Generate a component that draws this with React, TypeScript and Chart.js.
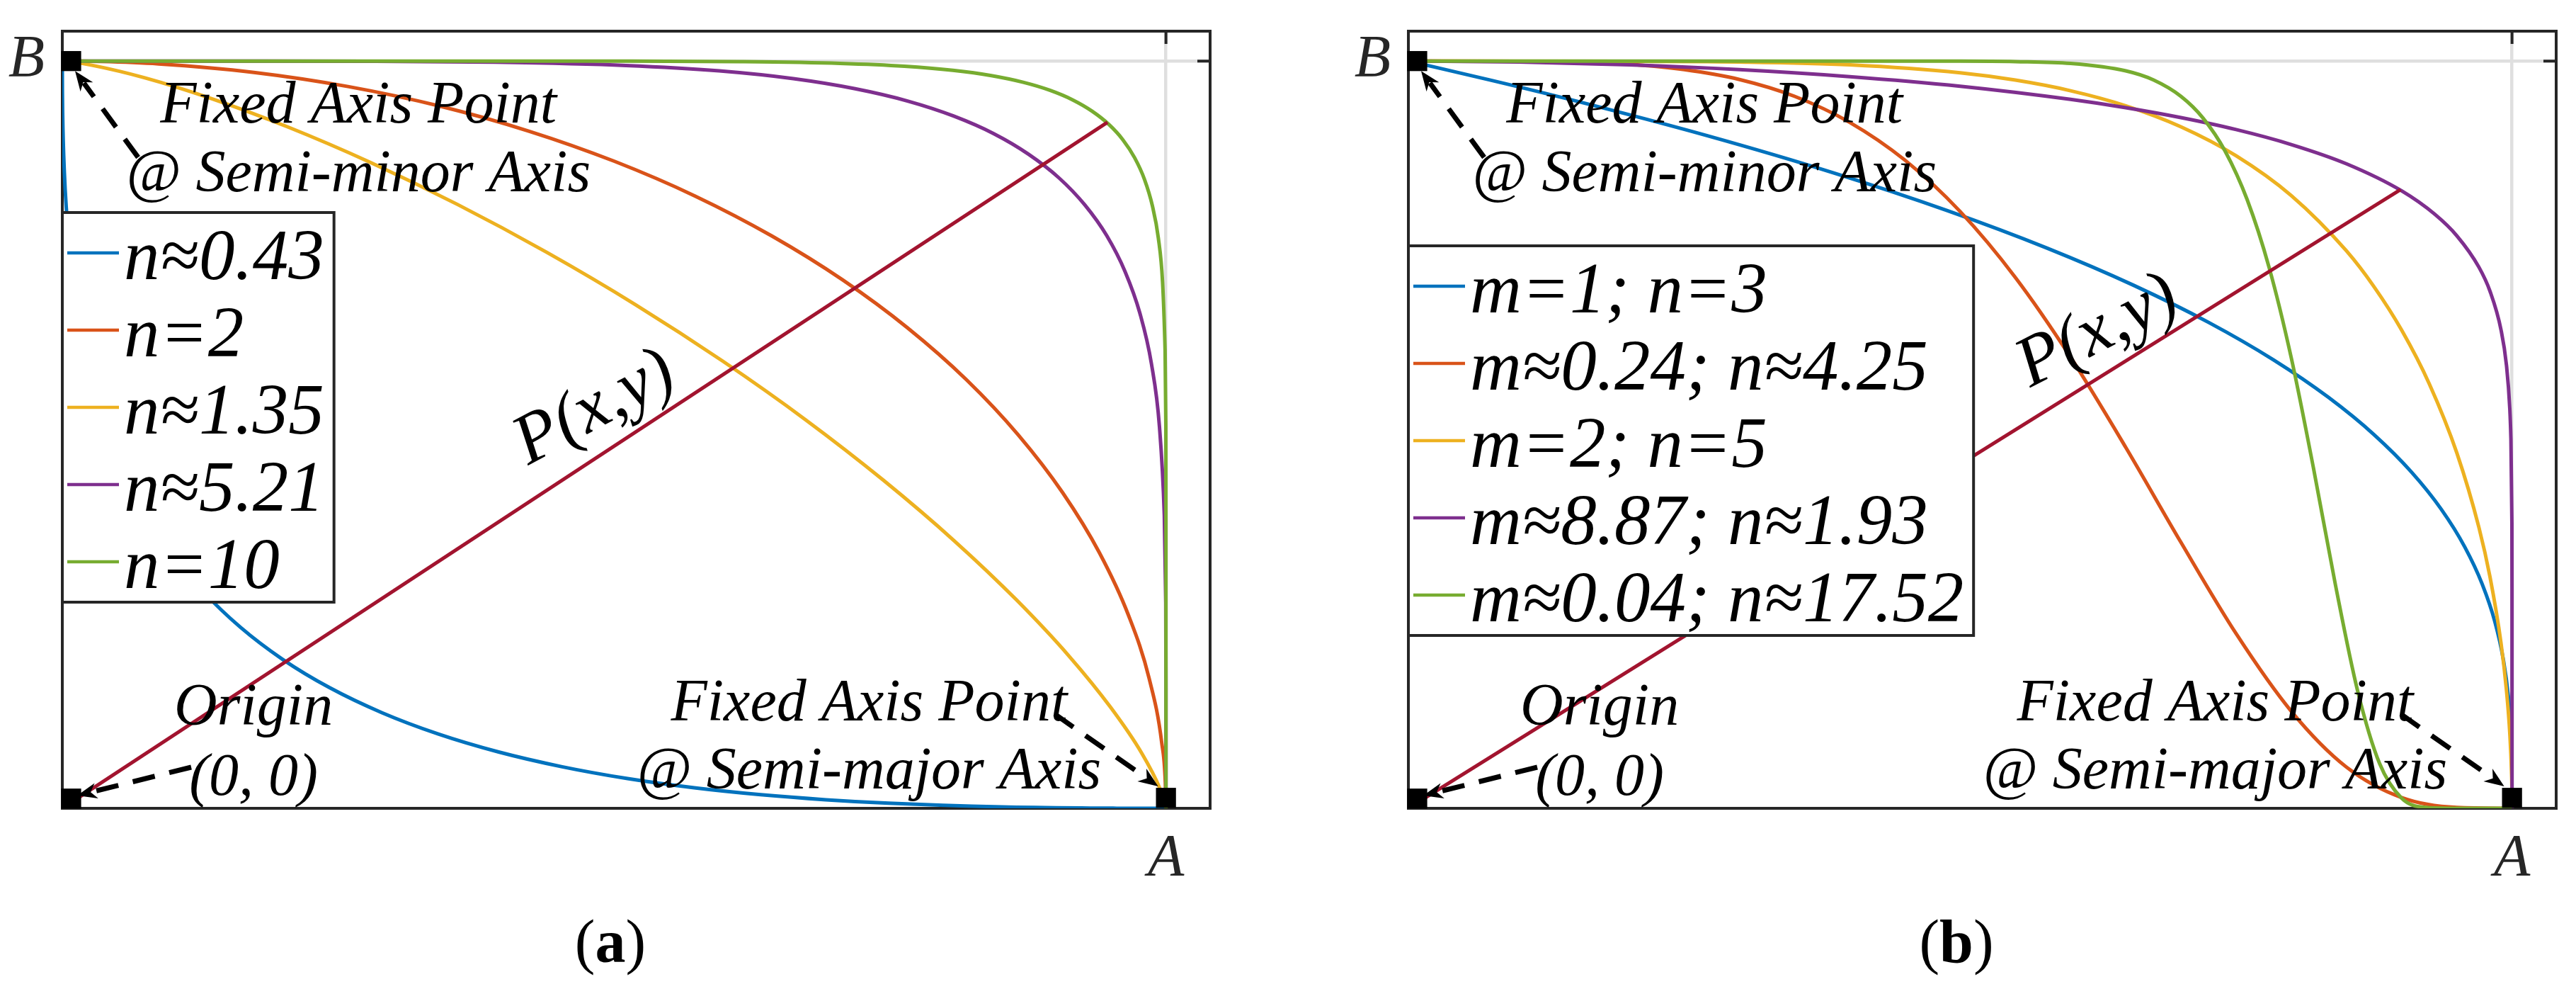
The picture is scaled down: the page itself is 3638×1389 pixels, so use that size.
import React, { useEffect, useRef } from 'react';
import { Chart, registerables } from 'chart.js';

Chart.register(...registerables);

type Pt = [number, number];

// ---------- DATA (normalised: A = 1, B = 1) ----------
// Panel (a): curves
const panelA_n043: Pt[] = [
  [0, 1], [0.000001, 0.9936], [0.000012, 0.9824], [0.000104, 0.9555], [0.000291, 0.9313],
  [0.001862, 0.8511], [0.006804, 0.7488], [0.011474, 0.6919], [0.018203, 0.6328], [0.02749, 0.5725],
  [0.039789, 0.5122], [0.05562, 0.4529], [0.07537, 0.3954], [0.09942, 0.3407], [0.12804, 0.2895],
  [0.16136, 0.2423], [0.19946, 0.1995], [0.2423, 0.16136], [0.2895, 0.12804], [0.3407, 0.09942],
  [0.3954, 0.07537], [0.4529, 0.05562], [0.5122, 0.039789], [0.5725, 0.02749], [0.6328, 0.018203],
  [0.6919, 0.011474], [0.7488, 0.006804], [0.8511, 0.001862], [0.9313, 0.000291], [0.9555, 0.000104],
  [0.9824, 0.000012], [0.9936, 0.000001], [1, 0],
];
const panelA_n2: Pt[] = [
  [0, 1], [0.0349, 0.9994], [0.0872, 0.9962], [0.1736, 0.9848], [0.2588, 0.9659], [0.342, 0.9397],
  [0.4226, 0.9063], [0.5, 0.866], [0.5736, 0.8192], [0.6428, 0.766], [0.7071, 0.7071], [0.766, 0.6428],
  [0.8192, 0.5736], [0.866, 0.5], [0.9063, 0.4226], [0.9397, 0.342], [0.9659, 0.2588], [0.9848, 0.1736],
  [0.9962, 0.0872], [0.9994, 0.0349], [1, 0],
];
const panelA_n135: Pt[] = [
  [0, 1], [0.0069, 0.9991], [0.0269, 0.9944], [0.0748, 0.9776], [0.135, 0.9499], [0.204, 0.912],
  [0.2791, 0.8644], [0.3581, 0.8081], [0.4389, 0.7441], [0.5196, 0.6738], [0.5984, 0.5984],
  [0.6738, 0.5196], [0.7441, 0.4389], [0.8081, 0.3581], [0.8644, 0.2791], [0.912, 0.204],
  [0.9499, 0.135], [0.9776, 0.0748], [0.9944, 0.0269], [0.9991, 0.0069], [1, 0],
];
const panelA_n521: Pt[] = [
  [0, 1], [0.162, 1.0], [0.2758, 0.9998], [0.3919, 0.9985], [0.5107, 0.9941], [0.5952, 0.9868],
  [0.6624, 0.9764], [0.7184, 0.9629], [0.7664, 0.9463], [0.8078, 0.9263], [0.844, 0.9028],
  [0.8754, 0.8754], [0.9028, 0.844], [0.9263, 0.8078], [0.9463, 0.7664], [0.9629, 0.7184],
  [0.9764, 0.6624], [0.9868, 0.5952], [0.9941, 0.5107], [0.9985, 0.3919], [0.9998, 0.2758],
  [0.99999, 0.162], [1, 0],
];
const panelA_n10: Pt[] = [
  [0, 1], [0.2808, 1.0], [0.3874, 1.0], [0.5112, 0.9999], [0.6139, 0.9992], [0.7046, 0.9969],
  [0.7631, 0.9931], [0.8069, 0.9876], [0.8418, 0.9805], [0.8706, 0.9716], [0.8948, 0.9609],
  [0.9154, 0.9481], [0.933, 0.933], [0.9481, 0.9154], [0.9609, 0.8948], [0.9716, 0.8706],
  [0.9805, 0.8418], [0.9876, 0.8069], [0.9931, 0.7631], [0.9969, 0.7046], [0.9992, 0.6139],
  [0.9999, 0.5112], [0.99999, 0.3874], [0.999999, 0.2808], [1, 0],
];
const panelA_pLine: Pt[] = [[0, 0], [0.947, 0.918]];

// Panel (b): curves
const panelB_m1n3: Pt[] = [
  [0, 1], [0.0731, 0.975], [0.1426, 0.95], [0.271, 0.9], [0.3859, 0.85], [0.488, 0.8], [0.5781, 0.75],
  [0.657, 0.7], [0.7254, 0.65], [0.784, 0.6], [0.8336, 0.55], [0.875, 0.5], [0.9089, 0.45], [0.936, 0.4],
  [0.9571, 0.35], [0.973, 0.3], [0.9844, 0.25], [0.992, 0.2], [0.9966, 0.15], [0.999, 0.1],
  [0.99988, 0.05], [1, 0],
];
const panelB_m024n425: Pt[] = [
  [0, 1], [0.1, 0.9998], [0.15, 0.9987], [0.2, 0.9956], [0.25, 0.9885], [0.3, 0.9753], [0.35, 0.9528],
  [0.4, 0.9179], [0.45, 0.8673], [0.5, 0.7986], [0.55, 0.7104], [0.6, 0.6037], [0.65, 0.483],
  [0.7, 0.3559], [0.75, 0.2337], [0.8, 0.1298], [0.85, 0.0551], [0.9, 0.0143], [0.95, 0.0011], [1, 0],
];
const panelB_m2n5: Pt[] = [
  [0, 1], [0.2, 0.9998], [0.3, 0.9988], [0.4, 0.9949], [0.5, 0.9843], [0.55, 0.9745], [0.6, 0.9603],
  [0.65, 0.9402], [0.7, 0.9121], [0.75, 0.8733], [0.8, 0.82], [0.85, 0.7459], [0.875, 0.6979],
  [0.9, 0.6399], [0.925, 0.5682], [0.95, 0.4756], [0.97, 0.3759], [0.98, 0.31], [0.99, 0.2214],
  [0.995, 0.1573], [0.998, 0.0998], [0.9995, 0.05], [0.9999, 0.0224], [1, 0],
];
const panelB_m887n193: Pt[] = [
  [0, 1], [0.1, 0.9987], [0.2, 0.9949], [0.3, 0.9885], [0.4, 0.9791], [0.5, 0.9663], [0.6, 0.9487],
  [0.65, 0.9376], [0.7, 0.9243], [0.75, 0.9083], [0.8, 0.8883], [0.85, 0.8625], [0.9, 0.8263],
  [0.93, 0.795], [0.95, 0.7662], [0.97, 0.7242], [0.98, 0.6922], [0.99, 0.6405], [0.995, 0.5925],
  [0.998, 0.5344], [0.999, 0.4942], [0.9999, 0.3813], [0.99999, 0.2941], [0.9999999, 0.175], [1, 0],
];
const panelB_m004n1752: Pt[] = [
  [0, 1], [0.5, 0.9999], [0.55, 0.9993], [0.6, 0.9968], [0.65, 0.9869], [0.675, 0.9748], [0.7, 0.9528],
  [0.72, 0.9238], [0.74, 0.8796], [0.76, 0.8146], [0.78, 0.7233], [0.8, 0.6027], [0.82, 0.456],
  [0.84, 0.299], [0.86, 0.1578], [0.88, 0.0599], [0.9, 0.0136], [0.92, 0.0014], [0.95, 0], [1, 0],
];
const panelB_pLine: Pt[] = [[0, 0], [0.899, 0.828]];

// Fixed points (B, origin, A) drawn as black squares
const fixedPoints: Pt[] = [[0.008, 1.0], [0.008, 0.013], [1.0, 0.014]];

// Legend labels
const legendA = ['n≈0.43', 'n=2', 'n≈1.35', 'n≈5.21', 'n=10'];
const legendB = ['m=1; n=3', 'm≈0.24; n≈4.25', 'm=2; n=5', 'm≈8.87; n≈1.93', 'm≈0.04; n≈17.52'];

// Tick values and labels
const xTickValues = [1];
const xTickLabels = ['A'];
const yTickValues = [1];
const yTickLabels = ['B'];

// Annotation texts
const annotationTexts = ['Fixed Axis Point', '@ Semi-minor Axis', 'Origin', '(0, 0)', 'Fixed Axis Point', '@ Semi-major Axis'];

// ---------- STYLE / LAYOUT ----------
const SERIES_COLORS = ['#0072BD', '#D95319', '#EDB120', '#7E2F8E', '#77AC30'];
const P_COLOR = '#A2142F';
const AXIS_COLOR = '#262626';
const GRID_COLOR = '#dfdfdf';
const FONT = '"Liberation Serif", "Times New Roman", Times, serif';
const LEGEND_FONT_SIZE = 101;

const CANVAS_W = 1819;
const CANVAS_H = 1389;

// positions of annotation texts (data coords, centre x / baseline y)
const annotationPos: Pt[] = [
  [0.2683, 0.9175], [0.2683, 0.8256], [0.1733, 0.1118], [0.1733, 0.018], [0.731, 0.1175], [0.731, 0.0265],
];
// arrows: [tailX, tailY, tipX, tipY] in data coords
const arrowPos: number[][] = [
  [0.0687, 0.8711, 0.01155, 0.98673],
  [0.1168, 0.055, 0.01348, 0.01706],
  [0.8992, 0.1261, 0.99294, 0.02938],
];

interface PanelSpec {
  series: Pt[][];
  labels: string[];
  pLine: Pt[];
  pLabel: Pt;
  pRot: number;
  legendTop: number;
  yAxisWidth: number;
  rightPad: number;
  caption: string;
}

const specA: PanelSpec = {
  series: [panelA_n043, panelA_n2, panelA_n135, panelA_n521, panelA_n10],
  labels: legendA,
  pLine: panelA_pLine,
  pLabel: [0.4827, 0.5346],
  pRot: 28,
  legendTop: 256,
  yAxisWidth: 88,
  rightPad: 110,
  caption: 'a',
};

const specB: PanelSpec = {
  series: [panelB_m1n3, panelB_m024n425, panelB_m2n5, panelB_m887n193, panelB_m004n1752],
  labels: legendB,
  pLine: panelB_pLine,
  pLabel: [0.6248, 0.637],
  pRot: 27,
  legendTop: 303,
  yAxisWidth: 170,
  rightPad: 28,
  caption: 'b',
};

const toXY = (arr: Pt[]) => arr.map(([x, y]) => ({ x, y }));

function drawArrow(ctx: CanvasRenderingContext2D, x1: number, y1: number, x2: number, y2: number) {
  const dx = x2 - x1;
  const dy = y2 - y1;
  const L = Math.hypot(dx, dy);
  const ux = dx / L;
  const uy = dy / L;
  const headL = 28;
  const headHW = 11;
  const sx = x2 - ux * headL * 0.75;
  const sy = y2 - uy * headL * 0.75;
  ctx.save();
  ctx.strokeStyle = '#000';
  ctx.lineWidth = 7;
  ctx.lineCap = 'butt';
  ctx.setLineDash([32, 21]);
  ctx.beginPath();
  ctx.moveTo(x1, y1);
  ctx.lineTo(sx, sy);
  ctx.stroke();
  ctx.setLineDash([]);
  ctx.fillStyle = '#000';
  ctx.beginPath();
  ctx.moveTo(x2, y2);
  ctx.lineTo(x2 - ux * headL - uy * headHW, y2 - uy * headL + ux * headHW);
  ctx.lineTo(x2 - ux * headL * 0.7, y2 - uy * headL * 0.7);
  ctx.lineTo(x2 - ux * headL + uy * headHW, y2 - uy * headL - ux * headHW);
  ctx.closePath();
  ctx.fill();
  ctx.restore();
}

function makePlugin(spec: PanelSpec) {
  return {
    id: 'panelDecor',
    beforeDatasetsDraw(chart: any) {
      const { ctx, chartArea: ca, scales } = chart;
      ctx.save();
      ctx.strokeStyle = AXIS_COLOR;
      ctx.lineWidth = 4;
      ctx.strokeRect(ca.left, ca.top, ca.right - ca.left, ca.bottom - ca.top);
      const tl = 18;
      ctx.beginPath();
      xTickValues.forEach((v) => {
        const px = scales.x.getPixelForValue(v);
        ctx.moveTo(px, ca.bottom);
        ctx.lineTo(px, ca.bottom - tl);
        ctx.moveTo(px, ca.top);
        ctx.lineTo(px, ca.top + tl);
      });
      yTickValues.forEach((v) => {
        const py = scales.y.getPixelForValue(v);
        ctx.moveTo(ca.left, py);
        ctx.lineTo(ca.left + tl, py);
        ctx.moveTo(ca.right, py);
        ctx.lineTo(ca.right - tl, py);
      });
      ctx.stroke();
      ctx.restore();
    },
    afterDatasetsDraw(chart: any) {
      const { ctx, chartArea: ca, scales } = chart;
      const X = (v: number) => scales.x.getPixelForValue(v);
      const Y = (v: number) => scales.y.getPixelForValue(v);
      ctx.save();
      // arrows
      arrowPos.forEach(([a, b, c, d]) => drawArrow(ctx, X(a), Y(b), X(c), Y(d)));
      // annotation texts
      ctx.fillStyle = '#000';
      ctx.font = `italic 84px ${FONT}`;
      ctx.textAlign = 'center';
      ctx.textBaseline = 'alphabetic';
      annotationTexts.forEach((t, i) => {
        ctx.fillText(t, X(annotationPos[i][0]), Y(annotationPos[i][1]));
      });
      // P(x,y) label
      ctx.save();
      ctx.translate(X(spec.pLabel[0]), Y(spec.pLabel[1]));
      ctx.rotate((-spec.pRot * Math.PI) / 180);
      ctx.font = `italic 100px ${FONT}`;
      ctx.textAlign = 'center';
      ctx.textBaseline = 'middle';
      ctx.fillText('P(x,y)', 0, 0);
      ctx.restore();
      // legend
      ctx.font = `italic ${LEGEND_FONT_SIZE}px ${FONT}`;
      const maxW = Math.max(...spec.labels.map((l) => ctx.measureText(l).width));
      const bx = ca.left;
      const by = ca.top + spec.legendTop;
      const bw = 87 + maxW + 14;
      const bh = 550;
      ctx.fillStyle = '#fff';
      ctx.fillRect(bx, by, bw, bh);
      ctx.strokeStyle = AXIS_COLOR;
      ctx.lineWidth = 4;
      ctx.setLineDash([]);
      ctx.strokeRect(bx, by, bw, bh);
      spec.labels.forEach((l, i) => {
        const ry = by + 57 + 109 * i;
        ctx.strokeStyle = SERIES_COLORS[i];
        ctx.lineWidth = 4.5;
        ctx.beginPath();
        ctx.moveTo(bx + 7, ry);
        ctx.lineTo(bx + 80, ry);
        ctx.stroke();
        ctx.fillStyle = '#000';
        ctx.textAlign = 'left';
        ctx.textBaseline = 'alphabetic';
        ctx.fillText(l, bx + 87, ry + 37);
      });
      // caption
      const cx = ca.left + 774;
      const cy = 1358;
      const fN = `86px ${FONT}`;
      const fB = `bold 86px ${FONT}`;
      ctx.font = fN;
      const wL = ctx.measureText('(').width;
      const wR = ctx.measureText(')').width;
      ctx.font = fB;
      const wM = ctx.measureText(spec.caption).width;
      let x0 = cx - (wL + wM + wR) / 2;
      ctx.fillStyle = '#000';
      ctx.textAlign = 'left';
      ctx.textBaseline = 'alphabetic';
      ctx.font = fN;
      ctx.fillText('(', x0, cy);
      x0 += wL;
      ctx.font = fB;
      ctx.fillText(spec.caption, x0, cy);
      x0 += wM;
      ctx.font = fN;
      ctx.fillText(')', x0, cy);
      ctx.restore();
    },
  };
}

function buildConfig(spec: PanelSpec): any {
  const curveSets = spec.series.map((pts, i) => ({
    label: spec.labels[i],
    data: toXY(pts),
    showLine: true,
    borderColor: SERIES_COLORS[i],
    backgroundColor: SERIES_COLORS[i],
    borderWidth: 5,
    pointRadius: 0,
    cubicInterpolationMode: 'monotone',
    order: 5 - i,
  }));
  const tickFont = { family: FONT, size: 84, style: 'italic', weight: 'normal' };
  return {
    type: 'scatter',
    data: {
      datasets: [
        ...curveSets,
        {
          label: 'P',
          data: toXY(spec.pLine),
          showLine: true,
          borderColor: P_COLOR,
          borderWidth: 5,
          pointRadius: 0,
          tension: 0,
          order: 0,
        },
        {
          label: 'fixed',
          data: toXY(fixedPoints),
          showLine: false,
          pointStyle: 'rect',
          pointRadius: 20,
          backgroundColor: '#000',
          borderWidth: 0,
          clip: false,
          order: -1,
        },
      ],
    },
    options: {
      animation: false,
      responsive: false,
      maintainAspectRatio: false,
      devicePixelRatio: 1,
      events: [],
      layout: { padding: { left: 0, top: 44, right: spec.rightPad, bottom: 0 } },
      plugins: { legend: { display: false }, tooltip: { enabled: false } },
      scales: {
        x: {
          type: 'linear',
          position: 'bottom',
          min: 0,
          max: 1.04,
          afterBuildTicks: (axis: any) => {
            axis.ticks = xTickValues.map((v) => ({ value: v }));
          },
          afterFit: (axis: any) => {
            axis.height = 248;
            axis.paddingLeft = 0;
            axis.paddingRight = 0;
          },
          ticks: {
            callback: (v: number) => xTickLabels[xTickValues.indexOf(v)] ?? '',
            font: tickFont,
            color: AXIS_COLOR,
            padding: 23,
            maxRotation: 0,
            autoSkip: false,
          },
          grid: { color: GRID_COLOR, lineWidth: 4.5, drawTicks: false, tickLength: 0 },
          border: { display: false },
        },
        y: {
          type: 'linear',
          position: 'left',
          min: 0,
          max: 1.04,
          afterBuildTicks: (axis: any) => {
            axis.ticks = yTickValues.map((v) => ({ value: v }));
          },
          afterFit: (axis: any) => {
            axis.width = spec.yAxisWidth;
            axis.paddingTop = 0;
            axis.paddingBottom = 0;
          },
          ticks: {
            callback: (v: number) => yTickLabels[yTickValues.indexOf(v)] ?? '',
            font: tickFont,
            color: AXIS_COLOR,
            padding: 25,
            autoSkip: false,
          },
          grid: { color: GRID_COLOR, lineWidth: 4.5, drawTicks: false, tickLength: 0 },
          border: { display: false },
        },
      },
    },
    plugins: [makePlugin(spec)],
  };
}

function Panel({ spec, left }: { spec: PanelSpec; left: number }) {
  const ref = useRef<HTMLCanvasElement | null>(null);
  useEffect(() => {
    if (!ref.current) return;
    const chart = new Chart(ref.current, buildConfig(spec));
    return () => chart.destroy();
  }, [spec]);
  return (
    <canvas
      ref={ref}
      width={CANVAS_W}
      height={CANVAS_H}
      style={{ position: 'absolute', left, top: 0, width: CANVAS_W, height: CANVAS_H }}
    />
  );
}

export default function App() {
  return (
    <div
      style={{
        position: 'absolute',
        left: 0,
        top: 0,
        width: CANVAS_W * 2,
        height: CANVAS_H,
        background: '#fff',
        overflow: 'hidden',
      }}
    >
      <Panel spec={specA} left={0} />
      <Panel spec={specB} left={CANVAS_W} />
    </div>
  );
}
